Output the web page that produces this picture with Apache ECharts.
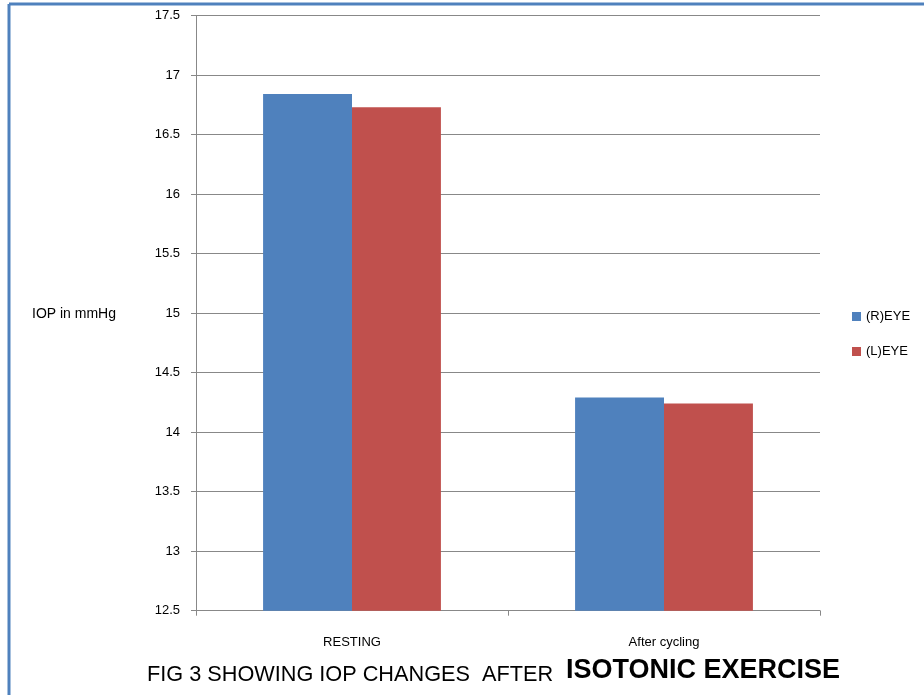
<!DOCTYPE html>
<html>
<head>
<meta charset="utf-8">
<script src="https://cdn.jsdelivr.net/npm/echarts@6/dist/echarts.min.js"></script>
<style>
html,body{margin:0;padding:0;background:#fff;}
#chart{width:924px;height:695px;}
</style>
</head>
<body>
<div id="chart"></div>
<script>
const categories = ['RESTING', 'After cycling'];
const rightEye = [16.84, 14.29];
const leftEye = [16.73, 14.24];
const seriesNames = ['(R)EYE', '(L)EYE'];
const yTicks = { min: 12.5, max: 17.5, interval: 0.5 };
const yAxisTitle = 'IOP in mmHg';
const captionPlain = 'FIG 3 SHOWING IOP CHANGES  AFTER';
const captionBold = 'ISOTONIC EXERCISE';

const font = '"Liberation Sans", Arial, sans-serif';
const chart = echarts.init(document.getElementById('chart'));
chart.setOption({
  animation: false,
  backgroundColor: '#fff',
  grid: { left: 196, top: 15.5, right: 104, bottom: 84.3, containLabel: false },
  legend: {
    orient: 'vertical',
    left: 847,
    top: 304,
    itemWidth: 9,
    itemHeight: 9,
    itemGap: 20,
    icon: 'rect',
    textStyle: { fontSize: 13, lineHeight: 15, color: '#000', fontFamily: font },
    data: seriesNames
  },
  xAxis: {
    type: 'category',
    data: categories,
    axisLine: { lineStyle: { color: '#888', width: 1 } },
    axisTick: { show: true, length: 5, lineStyle: { color: '#888' } },
    axisLabel: { color: '#000', fontSize: 13, margin: 25, fontFamily: font }
  },
  yAxis: {
    type: 'value',
    min: yTicks.min,
    max: yTicks.max,
    interval: yTicks.interval,
    axisLine: { show: true, lineStyle: { color: '#888', width: 1 } },
    axisTick: { show: true, length: 5, lineStyle: { color: '#888' } },
    splitLine: { lineStyle: { color: '#888', width: 1 } },
    axisLabel: {
      color: '#000', fontSize: 13, margin: 16, fontFamily: font,
      formatter: v => String(Math.round(v * 10) / 10)
    }
  },
  series: [
    {
      name: seriesNames[0], type: 'bar', data: rightEye,
      barGap: '0%', barCategoryGap: '43%',
      itemStyle: { color: '#4F81BD' }
    },
    {
      name: seriesNames[1], type: 'bar', data: leftEye,
      barGap: '0%', barCategoryGap: '43%',
      itemStyle: { color: '#C0504D' }
    }
  ],
  graphic: [
    { type: 'line', shape: { x1: 9, y1: 4, x2: 924, y2: 4 }, style: { stroke: '#4F81BD', lineWidth: 3 } },
    { type: 'line', shape: { x1: 9, y1: 4, x2: 9, y2: 695 }, style: { stroke: '#4F81BD', lineWidth: 3 } },
    {
      type: 'text',
      style: { x: 32, y: 314, text: yAxisTitle, fontSize: 14, fill: '#000', fontFamily: font, verticalAlign: 'middle' }
    },
    {
      type: 'text',
      style: { x: 147, y: 675, text: captionPlain, fontSize: 21.7, fill: '#000', fontFamily: font, verticalAlign: 'middle' }
    },
    {
      type: 'text',
      style: { x: 566, y: 671, text: captionBold, fontSize: 27, fontWeight: 'bold', fill: '#000', fontFamily: font, verticalAlign: 'middle' }
    }
  ]
});
</script>
</body>
</html>
